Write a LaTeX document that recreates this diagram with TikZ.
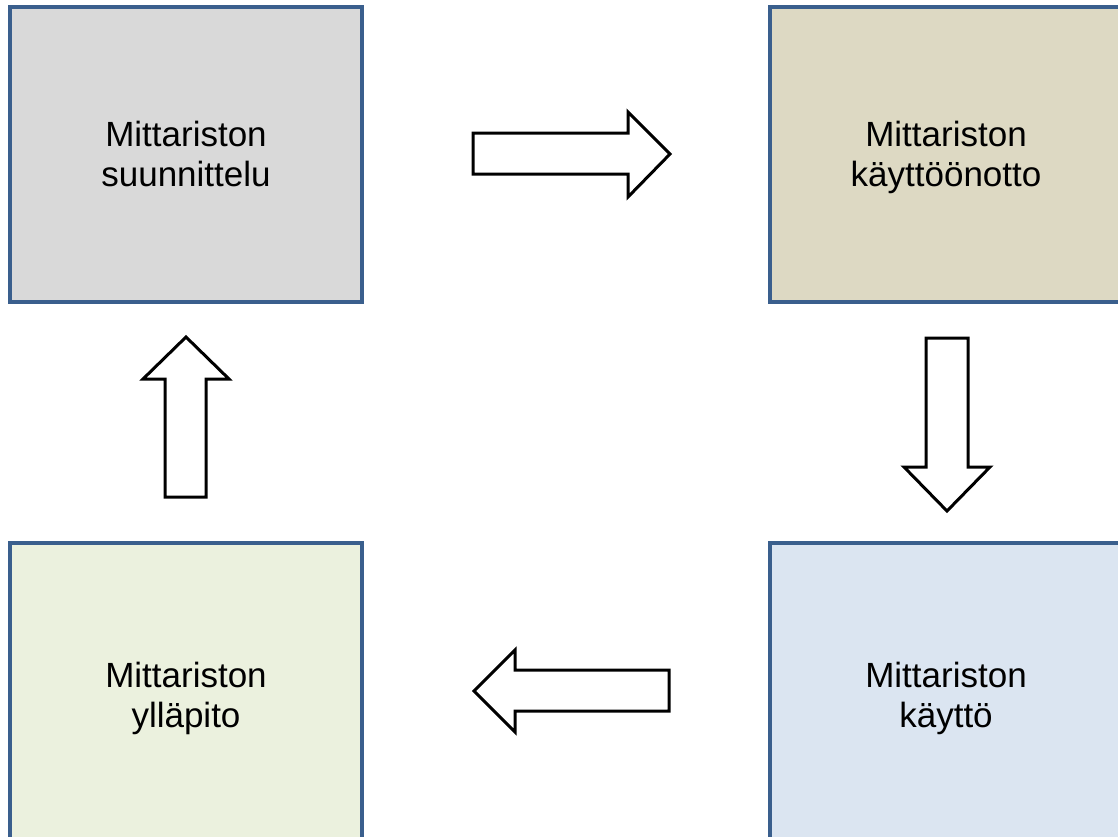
\documentclass[tikz,border=0pt]{standalone}
\usepackage{fontspec}
\setmainfont{Liberation Sans}
% fixed line height so every label sits on the same baselines
\newcommand\lnstrut{\rule[-8pt]{0pt}{40pt}}
\begin{document}
\begin{tikzpicture}[x=1pt,y=-1pt,
  stage/.style={draw=stageblue, line width=3.5pt, minimum width=352pt,
    minimum height=295pt, inner sep=0pt, align=center,
    font=\fontsize{35}{40}\selectfont},
  blockarrow/.style={draw=black, fill=white, line width=3pt, line join=miter}]
\definecolor{stageblue}{HTML}{3A5F8D}
\definecolor{fillgray}{HTML}{D9D9D9}
\definecolor{fillsand}{HTML}{DDD9C3}
\definecolor{fillgreen}{HTML}{EBF1DE}
\definecolor{fillblue}{HTML}{DBE5F1}
\useasboundingbox (0,0) rectangle (1118,836);

% four stage boxes
\node[stage, fill=fillgray]  (plan)   at (186,154.5)
  {\lnstrut Mittariston\\\lnstrut suunnittelu};
\node[stage, fill=fillsand]  (deploy) at (946,154.5)
  {\lnstrut Mittariston\\\lnstrut käyttöönotto};
\node[stage, fill=fillblue, minimum height=304pt]  (use) at (946,695)
  {\lnstrut Mittariston\\\lnstrut käyttö};
\node[stage, fill=fillgreen, minimum height=304pt] (maint) at (186,695)
  {\lnstrut Mittariston\\\lnstrut ylläpito};

% block arrows between the stages
\draw[blockarrow] (473,133) -- (628,133) -- (628,112) -- (670,154) -- (628,197)
  -- (628,174) -- (473,174) -- cycle;
\draw[blockarrow] (926,338) -- (968,338) -- (968,467) -- (990,467) -- (947,511)
  -- (904,467) -- (926,467) -- cycle;
\draw[blockarrow] (669,670) -- (515,670) -- (515,650) -- (474,691) -- (515,732)
  -- (515,711) -- (669,711) -- cycle;
\draw[blockarrow] (165,497) -- (165,379) -- (143,379) -- (186,337) -- (229,379)
  -- (206,379) -- (206,497) -- cycle;
\end{tikzpicture}
\end{document}
